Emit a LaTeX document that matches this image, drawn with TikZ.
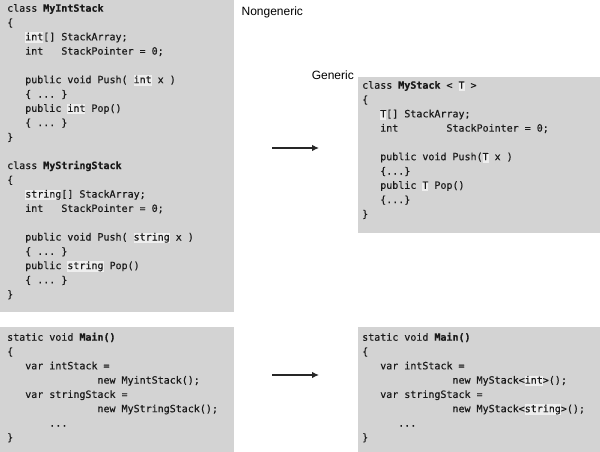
\documentclass[tikz,border=0pt]{standalone}
\usepackage{fontspec}
\setmonofont{DejaVu Sans Mono}[UprightFeatures={FakeBold=0.3},
  BoldFont={DejaVu Sans Mono Bold}, BoldFeatures={FakeBold=0.6}]
\setsansfont{Liberation Sans}
\usepackage{tikz}
\usetikzlibrary{arrows.meta}
\usetikzlibrary{positioning}
\definecolor{boxgray}{RGB}{211,211,211}
\definecolor{hlgray}{RGB}{238,238,238}
\newcommand{\codefont}{\fontsize{10}{14.3}\selectfont\ttfamily}
\newcommand{\ind}{\phantom{000}}
\newcommand{\hl}[1]{{\setlength{\fboxsep}{0pt}\colorbox{hlgray}{\rule[-2.5pt]{0pt}{10.5pt}#1}}}
\tikzstyle{codebox}=[fill=boxgray, inner sep=0pt, anchor=north west]
\tikzstyle{codetext}=[inner sep=0pt, anchor=north west, align=left,
  font=\codefont, text=black!90]
\tikzstyle{caption}=[inner sep=0pt, font=\sffamily\fontsize{12}{14}\selectfont]
\tikzstyle{line} = [draw, line width=1.2pt, black!85,
  -{Latex[length=7pt,width=6.5pt]}]
\newcommand{\codebox}[3]{node (#1) [codebox, minimum width=#2pt,
  minimum height=#3pt] {}}

\begin{document}
\begin{tikzpicture}[x=1pt,y=1pt]
    \useasboundingbox (0,0) rectangle (600,452);

    % Draw the grey boxes
    \path (0,452) \codebox{ngclass}{234}{312};
    \path (358,375) \codebox{gclass}{242}{156};
    \path (0,125) \codebox{ngmain}{234}{125};
    \path (358,125) \codebox{gmain}{242}{125};

    % Code in the boxes
    \path (ngclass.north west)+(7,-1.5) node (ngclasstext) [codetext] {%
      \strut class \textbf{MyIntStack}\\
      \{\\
      \ind\hl{int}[]~StackArray;\\
      \ind int~~~StackPointer~=~0;\\
      \mbox{}\\
      \ind public void Push(~\hl{int}~x~)\\
      \ind\{~...~\}\\
      \ind public~\hl{int}~Pop()\\
      \ind\{~...~\}\\
      \}\\
      \mbox{}\\
      class \textbf{MyStringStack}\\
      \{\\
      \ind\hl{string}[]~StackArray;\\
      \ind int~~~StackPointer~=~0;\\
      \mbox{}\\
      \ind public void Push(~\hl{string}~x~)\\
      \ind\{~...~\}\\
      \ind public~\hl{string}~Pop()\\
      \ind\{~...~\}\\
      \}};
    \path (gclass.north west)+(4,-1.5) node (gclasstext) [codetext] {%
      \strut class \textbf{MyStack}~<~\hl{T}~>\\
      \{\\
      \ind\hl{T}[]~StackArray;\\
      \ind int~~~~~~~~StackPointer~=~0;\\
      \mbox{}\\
      \ind public void Push(\hl{T}~x~)\\
      \ind\{...\}\\
      \ind public~\hl{T}~Pop()\\
      \ind\{...\}\\
      \}};
    \path (ngmain.north west)+(7,-3.5) node (ngmaintext) [codetext] {%
      \strut static void \textbf{Main()}\\
      \{\\
      \ind var intStack~=\\
      \ind\ind\ind\ind\ind new MyintStack();\\
      \ind var stringStack~=\\
      \ind\ind\ind\ind\ind new MyStringStack();\\
      \ind\ind~...\\
      \}};
    \path (gmain.north west)+(4,-3.5) node (gmaintext) [codetext] {%
      \strut static void \textbf{Main()}\\
      \{\\
      \ind var intStack~=\\
      \ind\ind\ind\ind\ind new MyStack<\hl{int}>();\\
      \ind var stringStack~=\\
      \ind\ind\ind\ind\ind new MyStack<\hl{string}>();\\
      \ind\ind...\\
      \}};

    % Captions
    \path (ngclass.north east)+(7,-12) node (nglabel) [caption, anchor=west]
      {Nongeneric};
    \path (gclass.north west)+(-4,2) node (glabel) [caption, anchor=east]
      {Generic};

    % Draw arrows between elements
    \coordinate (a1s) at (272,304);
    \coordinate (a1e) at (319,304);
    \coordinate (a2s) at (272,77);
    \coordinate (a2e) at (319,77);
    \path [line] (a1s) -- (a1e);
    \path [line] (a2s) -- (a2e);

  \end{tikzpicture}
\end{document}
